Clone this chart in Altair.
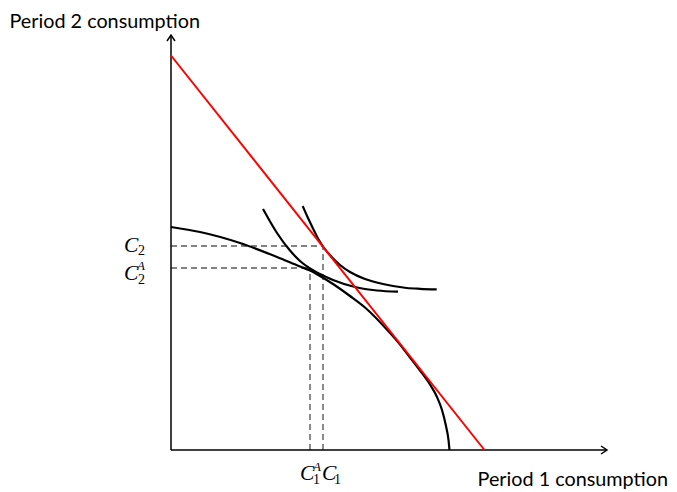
import altair as alt
import pandas as pd

# ---- data (units: origin where the two axes meet) ----
x_axis_end = 436
y_axis_end = 415

ppf_x = [0, 29, 69, 106, 129, 139, 149, 162, 179, 194, 219, 229, 239, 249, 259, 266, 271, 275, 277.5, 278.5]
ppf_y = [223, 218, 207, 193, 183.5, 179.5, 174, 166, 154, 142.5, 117, 105.5, 92.5, 79.5, 65.5, 53, 40, 24, 10, 0]

ic_inner_x = [92, 106, 119, 129, 139, 149, 162, 184, 206, 227]
ic_inner_y = [241, 217, 199.5, 189, 181.5, 176, 170, 163, 159.5, 158.3]

ic_outer_x = [131.7, 137, 142, 147, 152, 160.7, 169, 179, 194, 212, 235.7, 249, 265.7]
ic_outer_y = [244, 232, 221.5, 211.5, 203.5, 193, 185, 178, 171, 166, 162, 161.2, 160.7]

budget_x = [0, 313.5]
budget_y = [394.5, 0]

C1, C2 = 152, 204
C1A, C2A = 139, 182

# ---- view ----
W, H = 661, 484
xs = alt.Scale(domain=[-163, 498], nice=False, zero=False)
ys = alt.Scale(domain=[-42, 442], nice=False, zero=False)


def X(f):
    return alt.X(f, type="quantitative", scale=xs, axis=None)


def Y(f):
    return alt.Y(f, type="quantitative", scale=ys, axis=None)


axes_df = pd.DataFrame({"x": [0, 0], "y": [0, 0], "x2": [x_axis_end, 0], "y2": [0, y_axis_end]})
axes = alt.Chart(axes_df).mark_rule(color="black", strokeWidth=1.5).encode(
    x=X("x"), y=Y("y"), x2="x2", y2="y2")

arrows_df = pd.DataFrame({"x": [x_axis_end, 0], "y": [0, y_axis_end], "a": [90, 0]})
arrows = alt.Chart(arrows_df).mark_point(
    shape="M-0.8,1.2L0,0L0.8,1.2", filled=False, stroke="black", strokeWidth=1.5,
    size=100, opacity=1).encode(
    x=X("x"), y=Y("y"), angle=alt.Angle("a:Q", scale=None))

curves_df = pd.concat([
    pd.DataFrame({"x": ppf_x, "y": ppf_y, "c": "ppf"}),
    pd.DataFrame({"x": ic_inner_x, "y": ic_inner_y, "c": "ic1"}),
    pd.DataFrame({"x": ic_outer_x, "y": ic_outer_y, "c": "ic2"}),
])
curves = alt.Chart(curves_df).mark_line(
    color="black", strokeWidth=2.2, interpolate="monotone").encode(
    x=X("x"), y=Y("y"), detail="c:N")

budget = alt.Chart(pd.DataFrame({"x": budget_x, "y": budget_y})).mark_line(
    color="#ff0000", strokeWidth=2).encode(x=X("x"), y=Y("y"))

dash_df = pd.DataFrame({
    "x": [0, 0, C1, C1A],
    "y": [C2, C2A, 0, 0],
    "x2": [C1, C1A, C1, C1A],
    "y2": [C2, C2A, C2, C2A],
})
dashes = alt.Chart(dash_df).mark_rule(
    color="#595959", strokeWidth=1.4, strokeDash=[6, 4]).encode(
    x=X("x"), y=Y("y"), x2="x2", y2="y2")

title_y = alt.Chart(pd.DataFrame({"t": ["Period 2 consumption"], "x": [-161.5], "y": [422.5]})).mark_text(
    font="Lato", fontSize=19.8, align="left", baseline="alphabetic", color="black").encode(
    x=X("x"), y=Y("y"), text="t:N")

title_x = alt.Chart(pd.DataFrame({"t": ["Period 1 consumption"], "x": [497], "y": [-36]})).mark_text(
    font="Lato", fontSize=19.8, align="right", baseline="alphabetic", color="black").encode(
    x=X("x"), y=Y("y"), text="t:N")

ital_df = pd.DataFrame({
    "t": ["C", "C", "A", "C", "A", "C"],
    "x": [-47, -47, -34, 129, 142, 151],
    "y": [198, 170, 180, -30, -21, -30],
    "s": [21.5, 21.5, 13, 21.5, 13, 21.5],
})
ital = alt.Chart(ital_df).mark_text(
    font="Liberation Serif", fontStyle="italic", align="left", baseline="alphabetic",
    color="black").encode(
    x=X("x"), y=Y("y"), text="t:N", size=alt.Size("s:Q", scale=None, legend=None))

sub_df = pd.DataFrame({
    "t": ["2", "2", "1", "1"],
    "x": [-33, -33, 142, 163],
    "y": [195.5, 166.5, -34, -34],
})
subs = alt.Chart(sub_df).mark_text(
    font="Liberation Serif", fontSize=14, align="left", baseline="alphabetic",
    color="black").encode(x=X("x"), y=Y("y"), text="t:N")

chart = alt.layer(dashes, axes, arrows, curves, budget, title_y, title_x, ital, subs).properties(
    width=W, height=H, padding=0, autosize=alt.AutoSizeParams(type="none")
).configure_view(stroke=None)

chart.save("out.html", embed_options={"renderer": "svg", "actions": False})
